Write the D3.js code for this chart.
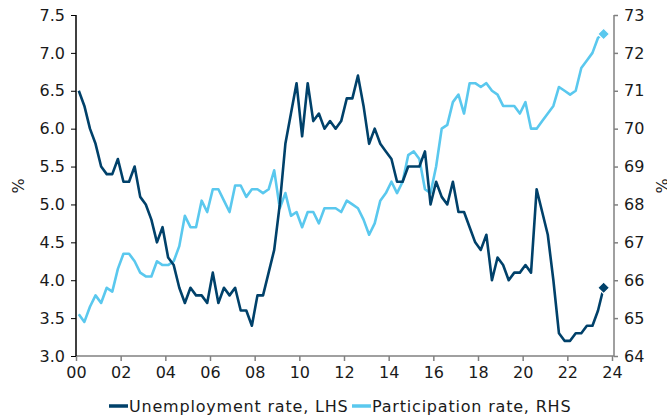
<!DOCTYPE html>
<meta charset="utf-8">
<style>
body {
  margin: 0;
  font-family: "DejaVu Sans", Verdana, sans-serif;
  font-size: 16px;
  background: #fff;
}
.line {
  fill: none;
  stroke-width: 2.6;
  stroke-linejoin: round;
}
text {
  fill: #1a1a1a;
}
</style>
<body>
<script src="https://cdn.jsdelivr.net/npm/d3@7/dist/d3.min.js"></script>
<script>

var width = 667,
    height = 419;

// quarterly series, 2000Q1 .. 2023Q3
var startYear = 2000;

var unemployment = [
  6.5, 6.3, 6.0, 5.8,   5.5, 5.4, 5.4, 5.6,   5.3, 5.3, 5.5, 5.1,   5.0, 4.8, 4.5, 4.7,
  4.3, 4.2, 3.9, 3.7,   3.9, 3.8, 3.8, 3.7,   4.1, 3.7, 3.9, 3.8,   3.9, 3.6, 3.6, 3.4,
  3.8, 3.8, 4.1, 4.4,   5.0, 5.8, 6.2, 6.6,   5.9, 6.6, 6.1, 6.2,   6.0, 6.1, 6.0, 6.1,
  6.4, 6.4, 6.7, 6.3,   5.8, 6.0, 5.8, 5.7,   5.6, 5.3, 5.3, 5.5,   5.5, 5.5, 5.7, 5.0,
  5.3, 5.1, 5.0, 5.3,   4.9, 4.9, 4.7, 4.5,   4.4, 4.6, 4.0, 4.3,   4.2, 4.0, 4.1, 4.1,
  4.2, 4.1, 5.2, 4.9,   4.6, 4.0, 3.3, 3.2,   3.2, 3.3, 3.3, 3.4,   3.4, 3.6, 3.9
];

var participation = [
  65.1, 64.9, 65.3, 65.6,   65.4, 65.8, 65.7, 66.3,   66.7, 66.7, 66.5, 66.2,   66.1, 66.1, 66.5, 66.4,
  66.4, 66.5, 66.9, 67.7,   67.4, 67.4, 68.1, 67.8,   68.4, 68.4, 68.1, 67.8,   68.5, 68.5, 68.2, 68.4,
  68.4, 68.3, 68.4, 68.9,   67.9, 68.3, 67.7, 67.8,   67.4, 67.8, 67.8, 67.5,   67.9, 67.9, 67.9, 67.8,
  68.1, 68.0, 67.9, 67.6,   67.2, 67.5, 68.1, 68.3,   68.6, 68.3, 68.6, 69.3,   69.4, 69.2, 68.4, 68.3,
  69.0, 70.0, 70.1, 70.7,   70.9, 70.4, 71.2, 71.2,   71.1, 71.2, 71.0, 70.9,   70.6, 70.6, 70.6, 70.4,
  70.7, 70.0, 70.0, 70.2,   70.4, 70.6, 71.1, 71.0,   70.9, 71.0, 71.6, 71.8,   72.0, 72.4, 72.5
];

var xTicks = d3.range(2000, 2025, 2);
var leftTicks = [3.0, 3.5, 4.0, 4.5, 5.0, 5.5, 6.0, 6.5, 7.0, 7.5];
var rightTicks = [64, 65, 66, 67, 68, 69, 70, 71, 72, 73];

var seriesNames = ["Unemployment rate, LHS", "Participation rate, RHS"];
var colors = ["#00416a", "#5ac8ee"];

// quarter midpoints as decimal years
var quarters = unemployment.map(function(d, i) {
  return startYear + i / 4 + 0.125;
});

var plotLeft = 76, plotRight = 614, plotTop = 15, plotBottom = 356;

var x = d3.scaleLinear().domain([2000, 2024]).range([plotLeft, 612]);
var yL = d3.scaleLinear().domain([3, 7.5]).range([plotBottom, plotTop]);
var yR = d3.scaleLinear().domain([64, 73]).range([plotBottom, plotTop]);

var svg = d3.select("body").append("svg")
    .attr("width", width)
    .attr("height", height);

// bottom axis
var xAxis = svg.append("g")
    .attr("transform", "translate(0," + plotBottom + ")")
    .call(d3.axisBottom(x).tickValues(xTicks).tickSize(5).tickPadding(6)
      .tickFormat(function(d) { return d3.format("02")(d % 100); }));
xAxis.select(".domain").remove();
xAxis.append("line")
    .attr("x1", plotLeft).attr("x2", plotRight)
    .attr("stroke", "#808080").attr("stroke-width", 1.5);
xAxis.selectAll(".tick line").attr("stroke", "#808080").attr("stroke-width", 1.5);

// left axis
var lAxis = svg.append("g")
    .attr("transform", "translate(" + plotLeft + ",0)")
    .call(d3.axisLeft(yL).tickValues(leftTicks).tickSize(5).tickPadding(6)
      .tickFormat(d3.format(".1f")));
lAxis.select(".domain").attr("stroke", "#000").attr("stroke-width", 1.5)
    .attr("d", "M0," + plotTop + "V" + plotBottom);

// right axis
var rAxis = svg.append("g")
    .attr("transform", "translate(" + plotRight + ",0)")
    .call(d3.axisRight(yR).tickValues(rightTicks).tickSize(4).tickPadding(6)
      .tickFormat(d3.format("d")));
rAxis.select(".domain").attr("stroke", "#808080").attr("stroke-width", 1.5)
    .attr("d", "M0," + plotTop + "V" + plotBottom);
rAxis.selectAll(".tick line").attr("stroke", "#808080").attr("stroke-width", 1.5);

svg.selectAll(".tick text")
    .style("font-family", "'DejaVu Sans', Verdana, sans-serif")
    .style("font-size", "16px")
    .attr("fill", "#1a1a1a");

// axis titles
svg.append("text")
    .attr("transform", "translate(24,186) rotate(-90)")
    .attr("text-anchor", "middle")
    .style("font-size", "16px")
    .text("%");
svg.append("text")
    .attr("transform", "translate(668,186) rotate(-90)")
    .attr("text-anchor", "middle")
    .style("font-size", "16px")
    .text("%");

// lines
var lineL = d3.line()
    .x(function(d, i) { return x(quarters[i]); })
    .y(function(d) { return yL(d); });
var lineR = d3.line()
    .x(function(d, i) { return x(quarters[i]); })
    .y(function(d) { return yR(d); });

svg.append("path")
    .datum(participation)
    .attr("class", "line")
    .attr("stroke", colors[1])
    .attr("d", lineR);

svg.append("path")
    .datum(unemployment)
    .attr("class", "line")
    .attr("stroke", colors[0])
    .attr("d", lineL);

// latest-value markers
var last = unemployment.length - 1;
var diamond = d3.symbol().type(d3.symbolSquare).size(70);

svg.append("path")
    .attr("d", diamond)
    .attr("transform", "translate(" + x(quarters[last]) + "," + yR(participation[last]) + ") rotate(45)")
    .attr("fill", colors[1])
    .attr("stroke", "#fff").attr("stroke-width", 1.2);

svg.append("path")
    .attr("d", diamond)
    .attr("transform", "translate(" + x(quarters[last]) + "," + yL(unemployment[last]) + ") rotate(45)")
    .attr("fill", colors[0])
    .attr("stroke", "#fff").attr("stroke-width", 1.2);

// legend
var legendX = [109, 352];
var legend = svg.selectAll(".legend")
    .data(seriesNames)
  .enter().append("g")
    .attr("class", "legend")
    .attr("transform", function(d, i) { return "translate(" + legendX[i] + ",406)"; });

legend.append("line")
    .attr("x1", 0).attr("x2", 19)
    .attr("stroke", function(d, i) { return colors[i]; })
    .attr("stroke-width", 3.5);

legend.append("text")
    .attr("x", 20)
    .attr("dy", "0.36em")
    .style("font-size", "16px")
    .style("letter-spacing", "0.8px")
    .text(function(d) { return d; });

</script>
